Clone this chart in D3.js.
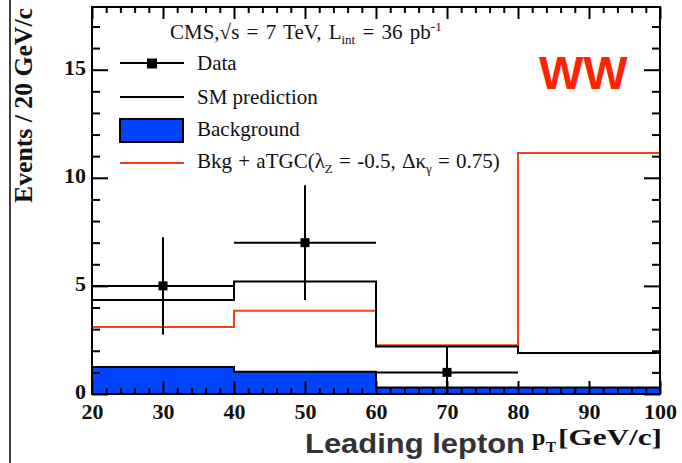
<!DOCTYPE html>
<html>
<head>
<meta charset="utf-8">
<script src="https://d3js.org/d3.v7.min.js"></script>
<style>
  body { margin: 0; background: #fff; }
  svg text { font-family: "Liberation Serif", "DejaVu Serif", serif; fill: #111; }
  .tick text { font-weight: bold; font-size: 22px; }
</style>
</head>
<body>
<svg id="chart" width="682" height="463"></svg>
<script>
// bins of leading lepton pT (GeV/c)
var binEdges = [20, 40, 60, 80, 100];
var smPrediction = [4.35, 5.2, 2.2, 1.9];
var background = [1.25, 1.03, 0.3, 0.3];
var bkgAtgc = [3.1, 3.85, 2.25, 11.15];

// data points with errors
var dataX = [30, 50, 70];
var dataXLo = [20, 40, 60];
var dataXHi = [40, 60, 80];
var dataY = [5, 7, 1];
var dataYLo = [2.75, 4.35, 0];
var dataYHi = [7.25, 9.65, 2.2];

var xMajor = [20, 30, 40, 50, 60, 70, 80, 90, 100];
var yMajor = [0, 5, 10, 15];

var svg = d3.select("#chart");
var pLeft = 92, pRight = 660, pTop = 7, pBottom = 394;

var x = d3.scaleLinear().domain([20, 100]).range([pLeft, pRight]);
var y = d3.scaleLinear().domain([0, 17.9]).range([pBottom, pTop]);

// thin page border line on the left
svg.append("line").attr("x1", 10).attr("x2", 10).attr("y1", 0).attr("y2", 463)
  .attr("stroke", "#000").attr("stroke-width", 1.5);

function histPoints(vals) {
  var pts = vals.map(function (v, i) { return [binEdges[i], v]; });
  pts.push([binEdges[binEdges.length - 1], vals[vals.length - 1]]);
  return pts;
}

// background fill
var area = d3.area()
  .x(function (d) { return x(d[0]); })
  .y0(y(0))
  .y1(function (d) { return y(d[1]); })
  .curve(d3.curveStepAfter);
svg.append("path").datum(histPoints(background))
  .attr("d", area).attr("fill", "#0044ff");

var line = d3.line()
  .x(function (d) { return x(d[0]); })
  .y(function (d) { return y(d[1]); })
  .curve(d3.curveStepAfter);

svg.append("path").datum(histPoints(background))
  .attr("d", line).attr("fill", "none").attr("stroke", "#000").attr("stroke-width", 2);

svg.append("path").datum(histPoints(bkgAtgc))
  .attr("d", line).attr("fill", "none").attr("stroke", "#f0401c").attr("stroke-width", 2);

svg.append("path").datum(histPoints(smPrediction))
  .attr("d", line).attr("fill", "none").attr("stroke", "#000").attr("stroke-width", 2);

// data points
var pts = svg.append("g");
dataX.forEach(function (d, i) {
  pts.append("line").attr("x1", x(dataXLo[i])).attr("x2", x(dataXHi[i]))
    .attr("y1", y(dataY[i])).attr("y2", y(dataY[i]))
    .attr("stroke", "#000").attr("stroke-width", 2);
  pts.append("line").attr("x1", x(d)).attr("x2", x(d))
    .attr("y1", y(dataYLo[i])).attr("y2", y(dataYHi[i]))
    .attr("stroke", "#000").attr("stroke-width", 2);
  pts.append("rect").attr("x", x(d) - 4.5).attr("y", y(dataY[i]) - 4.5)
    .attr("width", 9).attr("height", 9).attr("fill", "#000");
});

// axes: major and minor ticks on all four sides
var xMinor = d3.range(20, 101, 2).filter(function (v) { return v % 10 != 0; });
var yMinor = d3.range(0, 18, 1).filter(function (v) { return v % 5 != 0; });

svg.append("g").attr("transform", "translate(0," + pBottom + ")")
  .call(d3.axisBottom(x).tickValues(xMajor).tickSize(-13).tickPadding(9).tickFormat(d3.format("d")));
svg.append("g").attr("transform", "translate(0," + pBottom + ")")
  .call(d3.axisBottom(x).tickValues(xMinor).tickSize(-6).tickFormat(""));
svg.append("g").attr("transform", "translate(0," + pTop + ")")
  .call(d3.axisTop(x).tickValues(xMajor).tickSize(-12).tickFormat(""));
svg.append("g").attr("transform", "translate(0," + pTop + ")")
  .call(d3.axisTop(x).tickValues(xMinor).tickSize(-6).tickFormat(""));

var yAx = svg.append("g").attr("transform", "translate(" + pLeft + ",0)")
  .call(d3.axisLeft(y).tickValues(yMajor).tickSize(-16).tickPadding(6).tickFormat(d3.format("d")));
yAx.selectAll(".tick text").attr("dy", "0.2em");
svg.append("g").attr("transform", "translate(" + pLeft + ",0)")
  .call(d3.axisLeft(y).tickValues(yMinor).tickSize(-8).tickFormat(""));
svg.append("g").attr("transform", "translate(" + pRight + ",0)")
  .call(d3.axisRight(y).tickValues(yMajor).tickSize(-16).tickFormat(""));
svg.append("g").attr("transform", "translate(" + pRight + ",0)")
  .call(d3.axisRight(y).tickValues(yMinor).tickSize(-8).tickFormat(""));

svg.selectAll(".domain").remove();
svg.selectAll(".tick line").attr("stroke", "#000").attr("stroke-width", 2);

svg.append("rect").attr("x", pLeft).attr("y", pTop)
  .attr("width", pRight - pLeft).attr("height", pBottom - pTop)
  .attr("fill", "none").attr("stroke", "#000").attr("stroke-width", 2);

// header
var hdr = svg.append("text").attr("x", 170).attr("y", 39).attr("font-size", 21)
  .attr("word-spacing", 2);
hdr.append("tspan").text("CMS,\u221As = 7 TeV, L");
hdr.append("tspan").attr("font-size", 13).attr("dy", 5).text("int");
hdr.append("tspan").attr("dy", -5).text(" = 36 pb");
hdr.append("tspan").attr("font-size", 13).attr("dy", -8).text("-1");

// legend
var lg = svg.append("g");
lg.append("line").attr("x1", 120).attr("x2", 184).attr("y1", 63).attr("y2", 63)
  .attr("stroke", "#000").attr("stroke-width", 2);
lg.append("rect").attr("x", 147).attr("y", 58.5).attr("width", 10).attr("height", 10).attr("fill", "#000");
lg.append("text").attr("x", 197).attr("y", 70).attr("font-size", 21).text("Data");

lg.append("line").attr("x1", 120).attr("x2", 184).attr("y1", 97).attr("y2", 97)
  .attr("stroke", "#000").attr("stroke-width", 2);
lg.append("text").attr("x", 197).attr("y", 104).attr("font-size", 21).text("SM prediction");

lg.append("rect").attr("x", 120).attr("y", 119).attr("width", 63).attr("height", 23)
  .attr("fill", "#0044ff").attr("stroke", "#000").attr("stroke-width", 2);
lg.append("text").attr("x", 197).attr("y", 136).attr("font-size", 21).text("Background");

lg.append("line").attr("x1", 120).attr("x2", 184).attr("y1", 163).attr("y2", 163)
  .attr("stroke", "#f0401c").attr("stroke-width", 2);
var t4 = lg.append("text").attr("x", 197).attr("y", 168).attr("font-size", 21)
  .attr("word-spacing", 1);
t4.append("tspan").text("Bkg + aTGC(\u03BB");
t4.append("tspan").attr("font-size", 13).attr("dy", 5).text("Z");
t4.append("tspan").attr("dy", -5).text(" = -0.5, \u0394\u03BA");
t4.append("tspan").attr("font-size", 13).attr("dy", 5).text("\u03B3");
t4.append("tspan").attr("dy", -5).text(" = 0.75)");

// WW tag
svg.append("text").attr("x", 539).attr("y", 89)
  .style("font-family", "'Liberation Sans', Arial, sans-serif")
  .style("font-weight", "bold").style("font-size", "47px").style("fill", "#ff2200")
  .text("WW");

// y title
svg.append("text")
  .attr("transform", "translate(32,8) rotate(-90)")
  .attr("text-anchor", "end")
  .attr("font-size", 25).attr("font-weight", "bold")
  .attr("textLength", 195).attr("lengthAdjust", "spacingAndGlyphs")
  .text("Events / 20 GeV/c");

// x title
svg.append("text").attr("x", 305).attr("y", 453)
  .style("font-family", "'Liberation Sans', Arial, sans-serif")
  .style("font-weight", "bold").style("font-size", "28px").style("fill", "#333")
  .attr("textLength", 220).attr("lengthAdjust", "spacingAndGlyphs")
  .text("Leading lepton");
svg.append("text").attr("x", 532).attr("y", 445)
  .attr("font-weight", "bold").attr("font-size", 24).text("p");
svg.append("text").attr("x", 546).attr("y", 452)
  .attr("font-weight", "bold").attr("font-size", 15).text("T");
svg.append("text").attr("x", 558).attr("y", 445)
  .attr("font-weight", "bold").attr("font-size", 24)
  .attr("textLength", 104).attr("lengthAdjust", "spacingAndGlyphs")
  .text("[GeV/c]");
</script>
</body>
</html>
